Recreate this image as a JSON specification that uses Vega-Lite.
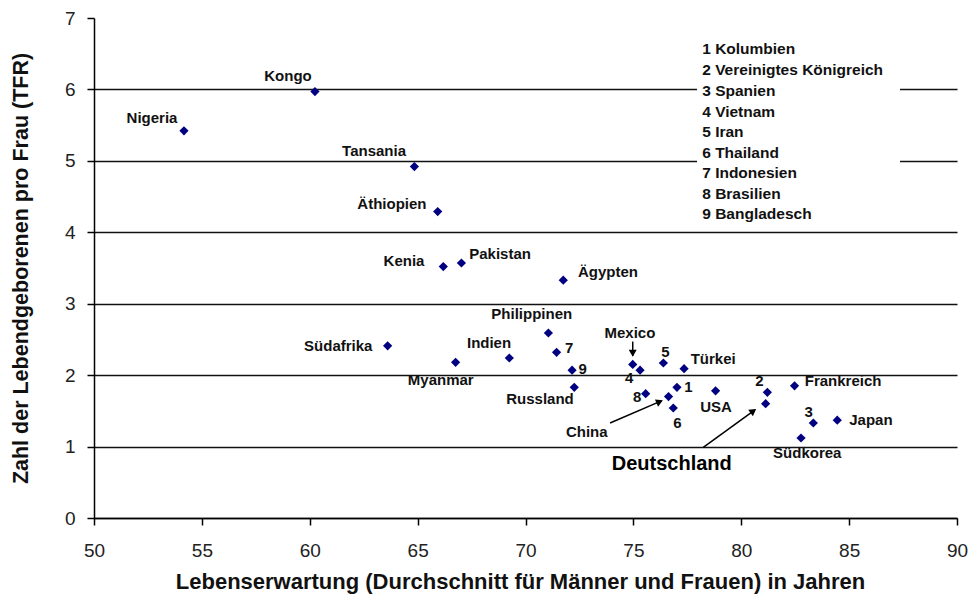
{
  "$schema": "https://vega.github.io/schema/vega-lite/v6.json",
  "width": 863,
  "height": 500,
  "autosize": "none",
  "padding": {"left": 94, "top": 18, "right": 13, "bottom": 80},
  "background": "white",
  "config": {"view": {"stroke": null}, "font": "Liberation Sans"},
  "datasets": {
    "points": [
      {"country": "Nigeria", "x": 54.17, "y": 5.42},
      {"country": "Kongo", "x": 60.24, "y": 5.97},
      {"country": "Tansania", "x": 64.85, "y": 4.92},
      {"country": "Äthiopien", "x": 65.93, "y": 4.29},
      {"country": "Kenia", "x": 66.19, "y": 3.52},
      {"country": "Pakistan", "x": 67.03, "y": 3.57},
      {"country": "Ägypten", "x": 71.75, "y": 3.33},
      {"country": "Südafrika", "x": 63.61, "y": 2.41},
      {"country": "Myanmar", "x": 66.76, "y": 2.18},
      {"country": "Indien", "x": 69.25, "y": 2.24},
      {"country": "Philippinen", "x": 71.06, "y": 2.59},
      {"country": "Indonesien", "x": 71.44, "y": 2.32},
      {"country": "Bangladesch", "x": 72.16, "y": 2.07},
      {"country": "Russland", "x": 72.26, "y": 1.83},
      {"country": "Mexico", "x": 74.97, "y": 2.15},
      {"country": "Vietnam", "x": 75.31, "y": 2.07},
      {"country": "Iran", "x": 76.39, "y": 2.17},
      {"country": "Türkei", "x": 77.35, "y": 2.09},
      {"country": "Kolumbien", "x": 77.02, "y": 1.83},
      {"country": "Brasilien", "x": 75.57, "y": 1.74},
      {"country": "China", "x": 76.63, "y": 1.70},
      {"country": "Thailand", "x": 76.85, "y": 1.54},
      {"country": "USA", "x": 78.81, "y": 1.78},
      {"country": "Vereinigtes Königreich", "x": 81.21, "y": 1.76},
      {"country": "Deutschland", "x": 81.13, "y": 1.60},
      {"country": "Frankreich", "x": 82.47, "y": 1.85},
      {"country": "Spanien", "x": 83.34, "y": 1.33},
      {"country": "Südkorea", "x": 82.77, "y": 1.12},
      {"country": "Japan", "x": 84.45, "y": 1.37}
    ],
    "labels": [
      {"label": "Kongo", "lx": 58.99, "ly": 6.19},
      {"label": "Nigeria", "lx": 52.69, "ly": 5.60},
      {"label": "Tansania", "lx": 62.98, "ly": 5.14},
      {"label": "Äthiopien", "lx": 63.81, "ly": 4.40},
      {"label": "Kenia", "lx": 64.37, "ly": 3.60},
      {"label": "Pakistan", "lx": 68.82, "ly": 3.70},
      {"label": "Ägypten", "lx": 73.82, "ly": 3.44},
      {"label": "Philippinen", "lx": 70.29, "ly": 2.85},
      {"label": "Indien", "lx": 68.31, "ly": 2.45},
      {"label": "Südafrika", "lx": 61.32, "ly": 2.41},
      {"label": "Myanmar", "lx": 66.07, "ly": 1.93},
      {"label": "7", "lx": 72.02, "ly": 2.38},
      {"label": "9", "lx": 72.65, "ly": 2.09},
      {"label": "Russland", "lx": 70.67, "ly": 1.67},
      {"label": "Mexico", "lx": 74.84, "ly": 2.59},
      {"label": "4", "lx": 74.81, "ly": 1.96},
      {"label": "5", "lx": 76.48, "ly": 2.33},
      {"label": "Türkei", "lx": 78.70, "ly": 2.22},
      {"label": "1", "lx": 77.55, "ly": 1.83},
      {"label": "8", "lx": 75.18, "ly": 1.69},
      {"label": "China", "lx": 72.84, "ly": 1.21},
      {"label": "6", "lx": 77.04, "ly": 1.33},
      {"label": "USA", "lx": 78.83, "ly": 1.56},
      {"label": "2", "lx": 80.84, "ly": 1.92},
      {"label": "Frankreich", "lx": 84.72, "ly": 1.92},
      {"label": "3", "lx": 83.13, "ly": 1.48},
      {"label": "Südkorea", "lx": 83.06, "ly": 0.91},
      {"label": "Japan", "lx": 86.01, "ly": 1.37},
      {"label": "Deutschland", "lx": 76.78, "ly": 0.75}
    ],
    "legend": [
      {"t": "1 Kolumbien", "ly": 6.566},
      {"t": "2 Vereinigtes Königreich", "ly": 6.272},
      {"t": "3 Spanien", "ly": 5.982},
      {"t": "4 Vietnam", "ly": 5.688},
      {"t": "5 Iran", "ly": 5.408},
      {"t": "6 Thailand", "ly": 5.114},
      {"t": "7 Indonesien", "ly": 4.826},
      {"t": "8 Brasilien", "ly": 4.532},
      {"t": "9 Bangladesch", "ly": 4.252}
    ],
    "arrows": [
      {"name": "Mexico", "x": 74.97, "y": 2.47, "x2": 74.97, "y2": 2.27},
      {"name": "China", "x": 73.92, "y": 1.33, "x2": 76.30, "y2": 1.64},
      {"name": "Deutschland", "x": 78.24, "y": 0.99, "x2": 80.62, "y2": 1.51}
    ],
    "heads": [
      {"name": "Mexico", "x": 74.97, "y": 2.306},
      {"name": "China", "x": 76.22, "y": 1.628},
      {"name": "Deutschland", "x": 80.56, "y": 1.497}
    ]
  },
  "layer": [
    {
      "data": {"name": "points"},
      "mark": {"type": "point", "shape": "diamond", "filled": true, "color": "#000080", "size": 85, "opacity": 1},
      "encoding": {
        "x": {
          "field": "x", "type": "quantitative",
          "scale": {"domain": [50, 90], "nice": false, "zero": false},
          "axis": {
            "title": "Lebenserwartung (Durchschnitt für Männer und Frauen) in Jahren",
            "values": [50, 55, 60, 65, 70, 75, 80, 85, 90],
            "format": "d",
            "grid": false,
            "domainColor": "#000", "domainWidth": 1.5,
            "tickColor": "#000", "tickWidth": 1.5, "tickSize": 7,
            "labelFontSize": 19, "labelColor": "#222", "labelFlush": false,
            "labelBaseline": "alphabetic", "labelPadding": 31,
            "titleFontSize": 22, "titleFontWeight": "bold", "titleColor": "#111",
            "titleBaseline": "alphabetic", "titleX": 426, "titleY": 70
          }
        },
        "y": {
          "field": "y", "type": "quantitative",
          "scale": {"domain": [0, 7], "nice": false, "zero": true},
          "axis": {
            "title": "Zahl der Lebendgeborenen pro Frau (TFR)",
            "values": [0, 1, 2, 3, 4, 5, 6, 7],
            "format": "d",
            "grid": true,
            "gridColor": {"condition": {"test": "datum.value === 7", "value": "transparent"}, "value": "#111"},
            "gridWidth": 1.5,
            "domainColor": "#000", "domainWidth": 1.5,
            "tickColor": "#000", "tickWidth": 1.5, "tickSize": 7,
            "labelFontSize": 19, "labelColor": "#222", "labelPadding": 12,
            "titleFontSize": 21.5, "titleFontWeight": "bold", "titleColor": "#111",
            "titleBaseline": "middle", "titleX": -73, "titleY": 250
          }
        }
      }
    },
    {
      "data": {"values": [{"a": 1}]},
      "mark": {"type": "rect", "fill": "white"},
      "encoding": {
        "x": {"datum": 77.95, "type": "quantitative"},
        "x2": {"datum": 87.36},
        "y": {"datum": 4.10, "type": "quantitative"},
        "y2": {"datum": 6.76}
      }
    },
    {
      "data": {"name": "legend"},
      "mark": {"type": "text", "align": "left", "baseline": "middle", "fontSize": 15.5, "fontWeight": "bold", "fill": "#111"},
      "encoding": {
        "x": {"datum": 78.19, "type": "quantitative"},
        "y": {"field": "ly", "type": "quantitative"},
        "text": {"field": "t"}
      }
    },
    {
      "data": {"name": "labels"},
      "transform": [{"filter": "datum.label !== 'Deutschland'"}],
      "mark": {"type": "text", "align": "center", "baseline": "middle", "fontSize": 15, "fontWeight": "bold", "fill": "#111"},
      "encoding": {
        "x": {"field": "lx", "type": "quantitative"},
        "y": {"field": "ly", "type": "quantitative"},
        "text": {"field": "label"}
      }
    },
    {
      "data": {"name": "labels"},
      "transform": [{"filter": "datum.label === 'Deutschland'"}],
      "mark": {"type": "text", "align": "center", "baseline": "middle", "fontSize": 20, "fontWeight": "bold", "fill": "#000"},
      "encoding": {
        "x": {"field": "lx", "type": "quantitative"},
        "y": {"field": "ly", "type": "quantitative"},
        "text": {"field": "label"}
      }
    },
    {
      "data": {"name": "arrows"},
      "mark": {"type": "rule", "color": "#000", "strokeWidth": 1.5},
      "encoding": {
        "x": {"field": "x", "type": "quantitative"},
        "y": {"field": "y", "type": "quantitative"},
        "x2": {"field": "x2"},
        "y2": {"field": "y2"}
      }
    },
    {
      "data": {"name": "heads"},
      "transform": [{"filter": "datum.name === 'Mexico'"}],
      "mark": {"type": "point", "shape": "triangle-up", "filled": true, "color": "#000", "size": 64, "opacity": 1, "angle": 180},
      "encoding": {
        "x": {"field": "x", "type": "quantitative"},
        "y": {"field": "y", "type": "quantitative"}
      }
    },
    {
      "data": {"name": "heads"},
      "transform": [{"filter": "datum.name === 'China'"}],
      "mark": {"type": "point", "shape": "triangle-up", "filled": true, "color": "#000", "size": 64, "opacity": 1, "angle": 67},
      "encoding": {
        "x": {"field": "x", "type": "quantitative"},
        "y": {"field": "y", "type": "quantitative"}
      }
    },
    {
      "data": {"name": "heads"},
      "transform": [{"filter": "datum.name === 'Deutschland'"}],
      "mark": {"type": "point", "shape": "triangle-up", "filled": true, "color": "#000", "size": 64, "opacity": 1, "angle": 54},
      "encoding": {
        "x": {"field": "x", "type": "quantitative"},
        "y": {"field": "y", "type": "quantitative"}
      }
    }
  ]
}
